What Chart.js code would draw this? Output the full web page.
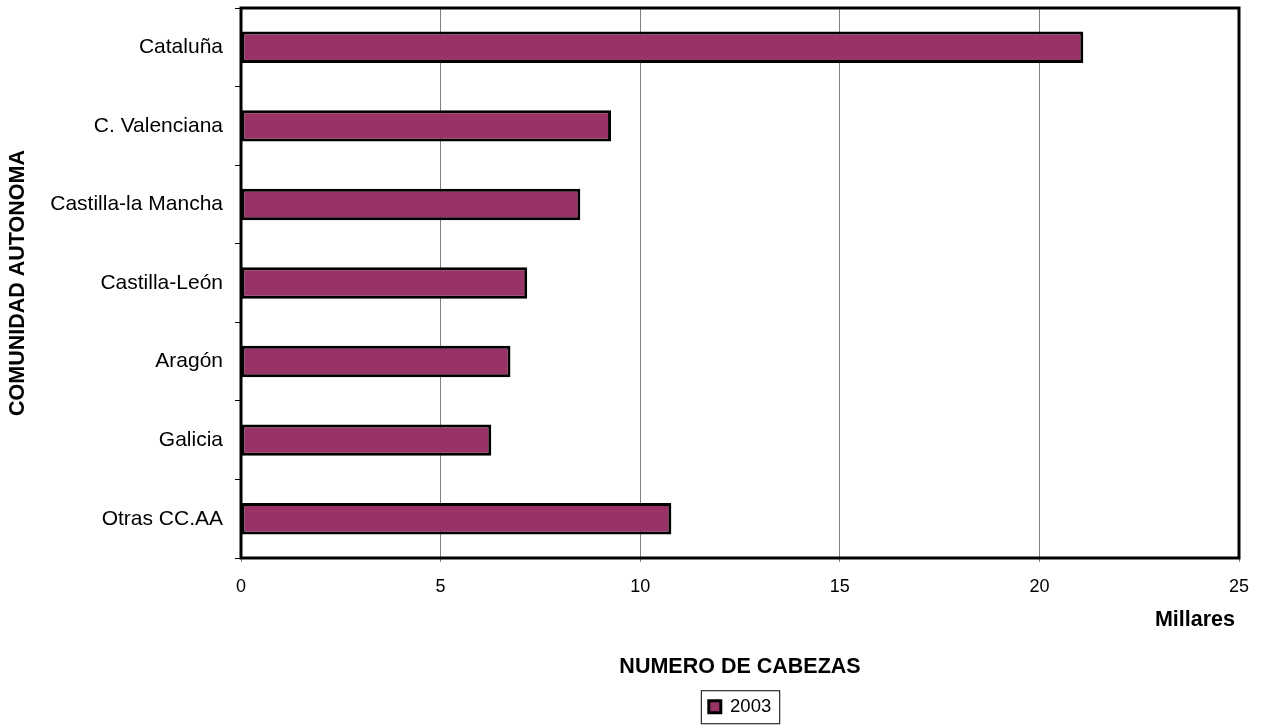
<!DOCTYPE html>
<html>
<head>
<meta charset="utf-8">
<script src="https://cdn.jsdelivr.net/npm/chart.js@4"></script>
<style>
  html, body { margin: 0; padding: 0; background: #fff; }
  #wrap { width: 1263px; height: 726px; }
</style>
</head>
<body>
<div id="wrap"><canvas id="chart" width="1263" height="726"></canvas></div>
<script>
// datos (miles de cabezas)
const regiones = ['Cataluña', 'C. Valenciana', 'Castilla-la Mancha', 'Castilla-León', 'Aragón', 'Galicia', 'Otras CC.AA'];
const cabezas2003 = [21.1, 9.27, 8.5, 7.17, 6.75, 6.27, 10.78];
const serieLabel = '2003';
const xMin = 0, xMax = 25, xStep = 5;

const FONT = '"Liberation Sans", Arial, sans-serif';
const barClr = '#993366';

// marco negro del área de trazado + rótulo "Millares" + recuadro de leyenda
const framePlugin = {
  id: 'frame',
  afterDraw(chart) {
    const { ctx, chartArea: a } = chart;
    ctx.save();
    ctx.strokeStyle = '#000';
    ctx.lineWidth = 3;
    ctx.strokeRect(a.left, a.top, a.right - a.left, a.bottom - a.top);

    ctx.font = 'bold 21.5px ' + FONT;
    ctx.fillStyle = '#000';
    ctx.textAlign = 'right';
    ctx.textBaseline = 'middle';
    ctx.fillText('Millares', a.right - 4, a.bottom + 62);

    const hb = chart.legend && chart.legend.legendHitBoxes && chart.legend.legendHitBoxes[0];
    if (hb) {
      ctx.lineWidth = 1;
      ctx.strokeStyle = '#000';
      const cy = hb.top + hb.height / 2;
      ctx.strokeRect(hb.left - 7.5, cy - 16, hb.width + 16, 33);
    }
    ctx.restore();
  },
};

new Chart(document.getElementById('chart'), {
  type: 'bar',
  data: {
    labels: regiones,
    datasets: [{
      label: serieLabel,
      data: cabezas2003,
      backgroundColor: barClr,
      borderColor: '#000',
      borderWidth: 3,
      borderSkipped: false,
      barPercentage: 0.4,
      categoryPercentage: 1,
    }],
  },
  options: {
    indexAxis: 'y',
    responsive: false,
    animation: false,
    layout: { padding: { top: 8, right: 24, left: 0, bottom: 0 } },
    plugins: {
      legend: {
        position: 'bottom',
        fullSize: false,
        labels: {
          boxWidth: 12,
          boxHeight: 12,
          padding: 10,
          color: '#000',
          font: { family: FONT, size: 18.5 },
        },
      },
      tooltip: { enabled: false },
    },
    scales: {
      x: {
        min: xMin,
        max: xMax,
        ticks: { stepSize: xStep, color: '#000', padding: 14, font: { family: FONT, size: 18 } },
        grid: { color: '#808080', lineWidth: 1, tickLength: 4 },
        border: { display: false },
        title: {
          display: true,
          text: 'NUMERO DE CABEZAS',
          color: '#000',
          font: { family: FONT, size: 21.5, weight: 'bold' },
          padding: { top: 0, bottom: 8 },
        },
        afterFit: s => { s.height = 129.5; s.paddingLeft = 0; s.paddingRight = 0; },
      },
      y: {
        offset: true,
        ticks: { color: '#000', padding: 12, font: { family: FONT, size: 21 } },
        grid: { offset: true, drawOnChartArea: false, color: '#000', tickLength: 6 },
        border: { display: false },
        title: {
          display: true,
          text: 'COMUNIDAD AUTONOMA',
          color: '#000',
          font: { family: FONT, size: 21.5, weight: 'bold' },
          padding: { top: 5, bottom: 0 },
        },
        afterFit: s => { s.width = 241; s.paddingTop = 0; s.paddingBottom = 0; },
      },
    },
  },
  plugins: [framePlugin],
});
</script>
</body>
</html>
